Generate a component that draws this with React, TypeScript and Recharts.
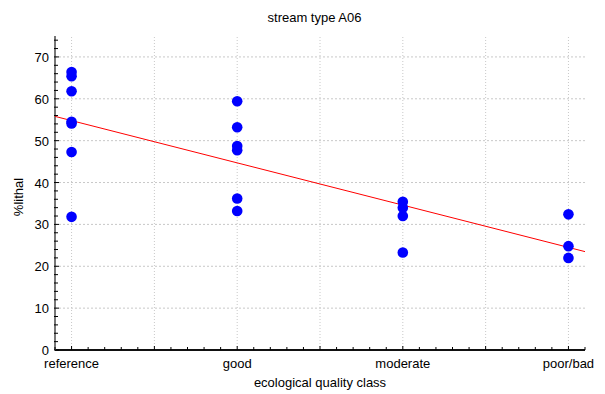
import React from 'react';
import { ScatterChart, Scatter, XAxis, YAxis, ReferenceLine } from 'recharts';

const categories = ['reference', 'good', 'moderate', 'poor/bad'];
const referenceValues = [66.4, 65.4, 61.8, 54.5, 54.1, 47.3, 31.8];
const goodValues = [59.4, 53.2, 48.7, 47.7, 36.2, 33.2];
const moderateValues = [35.4, 34.0, 32.0, 23.3];
const poorBadValues = [32.4, 24.8, 22.0];
const groups = [referenceValues, goodValues, moderateValues, poorBadValues];

const regressionX = [-0.1, 3.1];
const regressionY = [55.8, 23.5];

const yMajorTicks = [0, 10, 20, 30, 40, 50, 60, 70];
const xGridLines = [0, 0.5, 1, 1.5, 2, 2.5, 3];

const points = groups.flatMap((vals, i) => vals.map((v) => ({ x: i, y: v })));
const lineData = regressionX.map((x, i) => ({ x, y: regressionY[i] }));

const xMinorTicks: number[] = [];
for (let i = -1; i <= 31; i++) xMinorTicks.push(Math.round(i) / 10);
const yMinorTicks: number[] = [];
for (let i = 0; i <= 74; i += 2) yMinorTicks.push(i);

const FONT = '"Liberation Sans", Arial, sans-serif';
const FS = 13;

const BottomTick = (props: any) => {
  const { x, y, payload } = props;
  const v = payload.value;
  const isMajor = Math.abs(v - Math.round(v)) < 1e-6 && v >= 0 && v <= 3;
  const isHalf = Math.abs(v * 2 - Math.round(v * 2)) < 1e-6;
  const len = isMajor || isHalf ? 4 : 3;
  return (
    <g>
      <line x1={x} y1={y} x2={x} y2={y - len} stroke="#000" strokeWidth={1} />
      {isMajor && (
        <text x={x} y={y + 18} textAnchor="middle" fontSize={FS} fontFamily={FONT} fill="#000">
          {categories[Math.round(v)]}
        </text>
      )}
    </g>
  );
};

const TopTick = (props: any) => {
  const { x, y, payload } = props;
  const v = payload.value;
  const isHalf = Math.abs(v * 2 - Math.round(v * 2)) < 1e-6;
  return <line x1={x} y1={y} x2={x} y2={y + (isHalf ? 4 : 3)} stroke="#000" strokeWidth={1} />;
};

const LeftTick = (props: any) => {
  const { x, y, payload } = props;
  const v = payload.value;
  const isMajor = v % 10 === 0;
  return (
    <g>
      <line x1={x - 1} y1={y} x2={x + (isMajor ? 4 : 3)} y2={y} stroke="#000" strokeWidth={1} />
      {isMajor && (
        <text x={x - 6} y={y + 5} textAnchor="end" fontSize={FS} fontFamily={FONT} fill="#000">
          {v}
        </text>
      )}
    </g>
  );
};

const RightTick = (props: any) => {
  const { x, y, payload } = props;
  const v = payload.value;
  const isMajor = v % 10 === 0;
  return <line x1={x - (isMajor ? 4 : 3)} y1={y} x2={x + 2} y2={y} stroke="#000" strokeWidth={1} />;
};

const Dot = (props: any) => {
  const { cx, cy } = props;
  return <circle cx={cx} cy={cy} r={5.3} fill="#0000ff" />;
};

export default function App() {
  return (
    <div style={{ position: 'absolute', left: 0, top: 0, width: 605, height: 394, background: '#fff', fontFamily: FONT }}>
      <div style={{ position: 'absolute', left: 0, width: 629, top: 10, textAlign: 'center', fontSize: FS, lineHeight: '15px' }}>
        stream type A06
      </div>
      <div style={{ position: 'absolute', left: 55, width: 530, top: 375, textAlign: 'center', fontSize: FS, lineHeight: '15px' }}>
        ecological quality class
      </div>
      <div
        style={{
          position: 'absolute',
          left: 18,
          top: 197,
          fontSize: FS,
          lineHeight: '15px',
          transform: 'translate(-50%, -50%) rotate(-90deg)',
          whiteSpace: 'nowrap',
        }}
      >
        %lithal
      </div>
      <ScatterChart width={605} height={394} margin={{ top: 36, right: 20, bottom: 0, left: 0 }} style={{ position: 'absolute', left: 0, top: 0 }}>
        <XAxis
          type="number"
          dataKey="x"
          xAxisId="b"
          domain={[-0.1, 3.1]}
          ticks={xMinorTicks}
          interval={0}
          height={44}
          tickSize={0}
          tickMargin={0}
          tickLine={false}
          axisLine={{ stroke: '#111', strokeWidth: 2 }}
          tick={<BottomTick />}
          allowDataOverflow
        />
        <XAxis
          type="number"
          dataKey="x"
          xAxisId="t"
          orientation="top"
          domain={[-0.1, 3.1]}
          ticks={xMinorTicks}
          interval={0}
          height={0}
          tickSize={0}
          tickMargin={0}
          tickLine={false}
          axisLine={{ stroke: '#777', strokeWidth: 2 }}
          tick={<TopTick />}
          allowDataOverflow
        />
        <YAxis
          type="number"
          dataKey="y"
          yAxisId="l"
          domain={[0, 75]}
          ticks={yMinorTicks}
          interval={0}
          width={55}
          tickSize={0}
          tickMargin={0}
          tickLine={false}
          axisLine={{ stroke: '#777', strokeWidth: 2 }}
          tick={<LeftTick />}
          allowDataOverflow
        />
        <YAxis
          type="number"
          dataKey="y"
          yAxisId="r"
          orientation="right"
          domain={[0, 75]}
          ticks={yMinorTicks}
          interval={0}
          width={0}
          tickSize={0}
          tickMargin={0}
          tickLine={false}
          axisLine={{ stroke: '#111', strokeWidth: 2 }}
          tick={<RightTick />}
          allowDataOverflow
        />
        {xGridLines.map((g) => (
          <ReferenceLine key={'xg' + g} x={g} xAxisId="b" yAxisId="l" stroke="#c8c8c8" strokeDasharray="1 2" />
        ))}
        {yMajorTicks.filter((t) => t > 0).map((g) => (
          <ReferenceLine key={'yg' + g} y={g} xAxisId="b" yAxisId="l" stroke="#c8c8c8" strokeDasharray="2 2" />
        ))}
        <Scatter data={lineData} xAxisId="t" yAxisId="r" line={{ stroke: '#ff0000', strokeWidth: 1 }} shape={() => null} isAnimationActive={false} />
        <Scatter data={points} xAxisId="b" yAxisId="l" shape={<Dot />} isAnimationActive={false} />
      </ScatterChart>
    </div>
  );
}
